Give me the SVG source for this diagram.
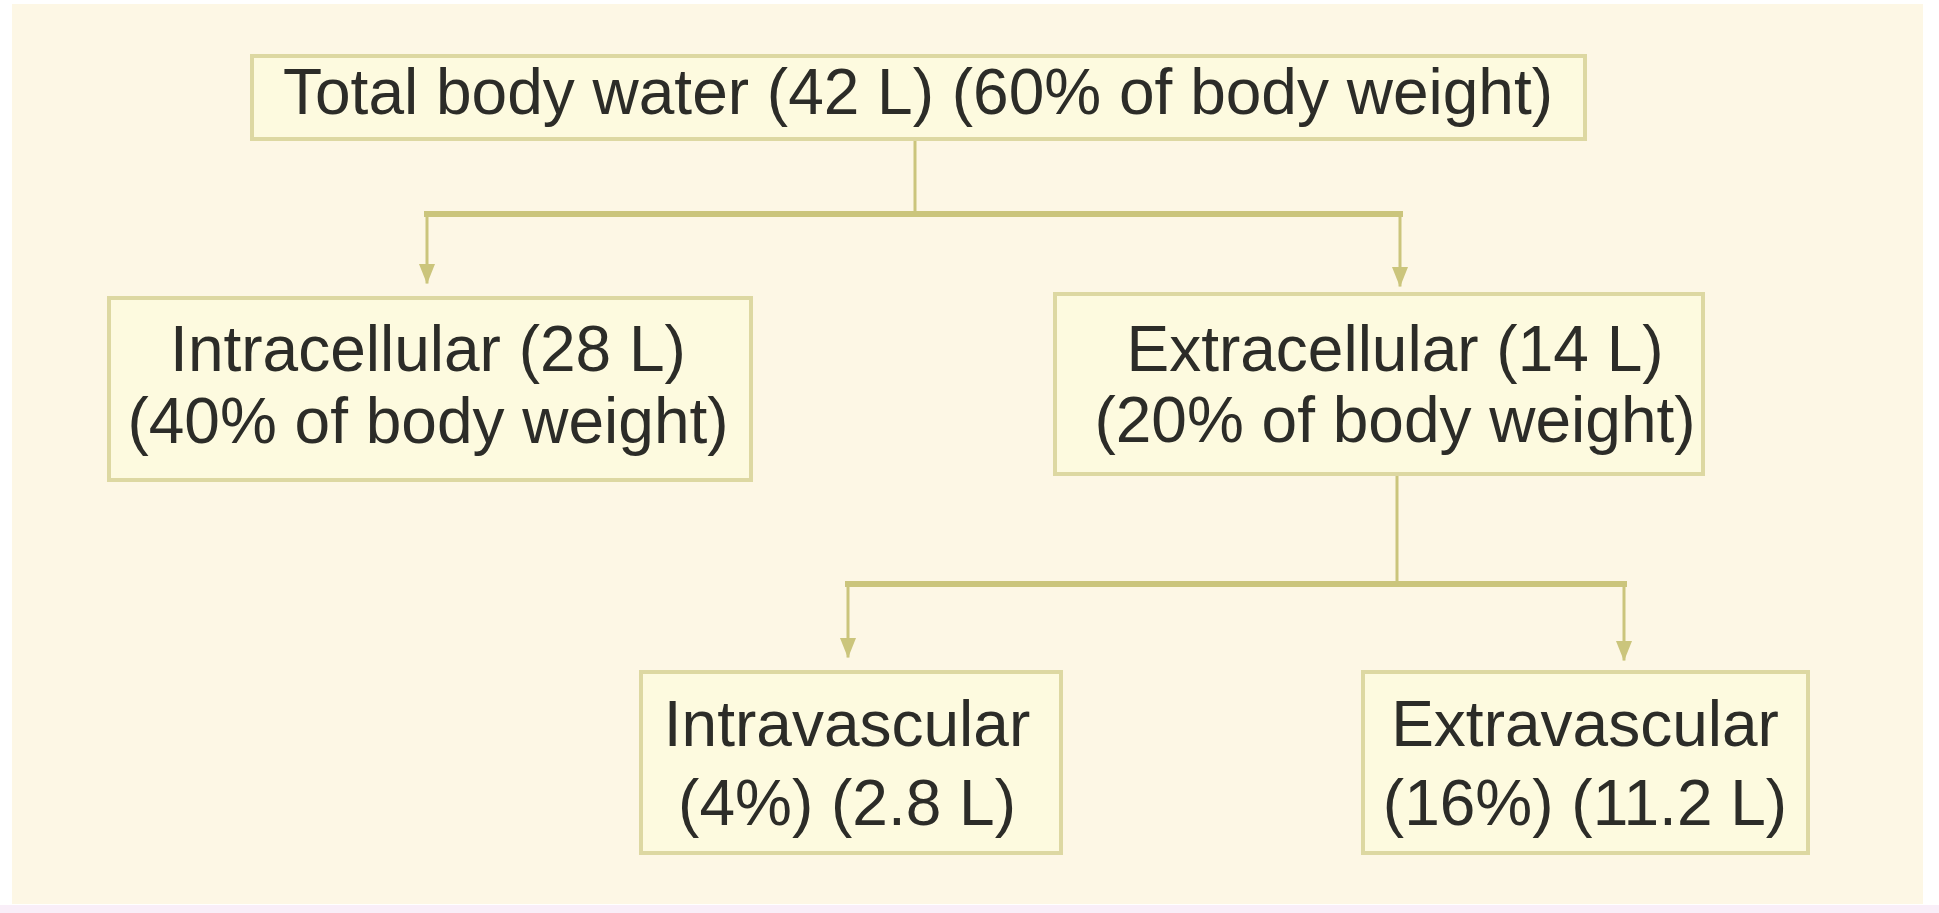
<svg xmlns="http://www.w3.org/2000/svg" width="1939" height="913" viewBox="0 0 1939 913">
<defs>
<style>
.box{fill:#fdfadf;stroke:#ddd8a2;stroke-width:4}
.lbl{font-family:"Liberation Sans",Arial,sans-serif;font-size:64px;fill:#2c2c28;text-anchor:middle}
.ln{fill:none;stroke:#cbc57c;stroke-linecap:square}
.thin{stroke-width:3}
.thick{stroke-width:6}
</style>
<marker id="ad" viewBox="0 0 16 20" refX="8" refY="18" markerWidth="16" markerHeight="20" orient="0" markerUnits="userSpaceOnUse">
<path d="M0 0 L16 0 L8 20 Z" fill="#cbc57c"/>
</marker>
</defs>
<rect x="0" y="0" width="1939" height="913" fill="#ffffff"/>
<rect x="12" y="4" width="1911" height="900" fill="#fdf7e5"/>
<rect x="0" y="905" width="1939" height="8" fill="#f9eef8"/>
<g id="connectors">
<path class="ln thin" d="M915 139 V214"/>
<path class="ln thick" d="M427 214 H1400"/>
<path class="ln thin" d="M427 214 V282" marker-end="url(#ad)"/>
<path class="ln thin" d="M1400 214 V285" marker-end="url(#ad)"/>
<path class="ln thin" d="M1397 474 V584"/>
<path class="ln thick" d="M848 584 H1624"/>
<path class="ln thin" d="M848 584 V656" marker-end="url(#ad)"/>
<path class="ln thin" d="M1624 584 V659" marker-end="url(#ad)"/>
</g>
<g id="total">
<rect class="box" x="252" y="56" width="1333" height="83"/>
<text class="lbl" x="918" y="114">Total body water (42 L) (60% of body weight)</text>
</g>
<g id="intracellular">
<rect class="box" x="109" y="298" width="642" height="182"/>
<text class="lbl" x="428" y="371">Intracellular (28 L)</text>
<text class="lbl" x="428" y="443">(40% of body weight)</text>
</g>
<g id="extracellular">
<rect class="box" x="1055" y="294" width="648" height="180"/>
<text class="lbl" x="1395" y="371">Extracellular (14 L)</text>
<text class="lbl" x="1395" y="442">(20% of body weight)</text>
</g>
<g id="intravascular">
<rect class="box" x="641" y="672" width="420" height="181"/>
<text class="lbl" x="847" y="746">Intravascular</text>
<text class="lbl" x="847" y="825">(4%) (2.8 L)</text>
</g>
<g id="extravascular">
<rect class="box" x="1363" y="672" width="445" height="181"/>
<text class="lbl" x="1585" y="746">Extravascular</text>
<text class="lbl" x="1585" y="825">(16%) (11.2 L)</text>
</g>
</svg>
